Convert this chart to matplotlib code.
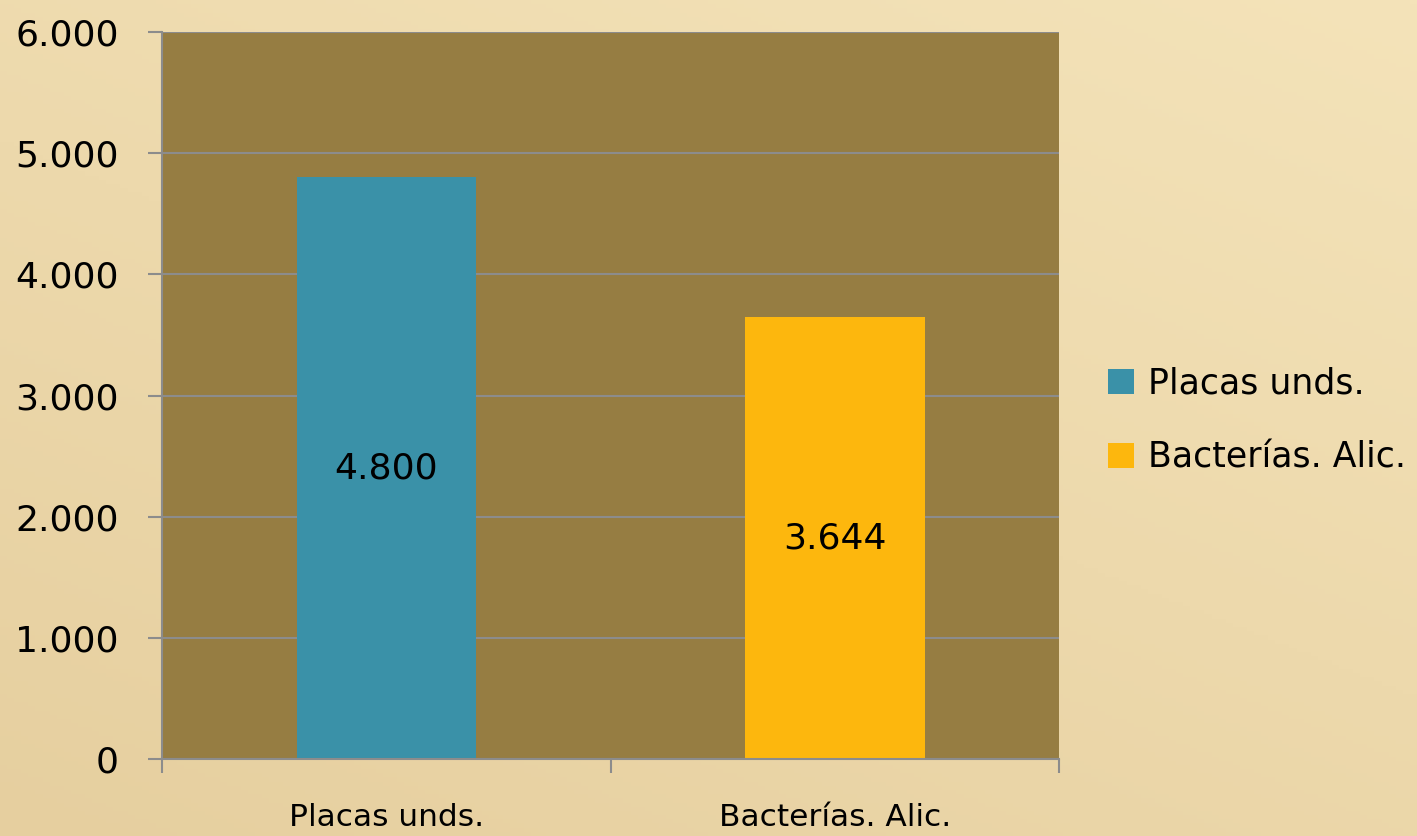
import numpy as np
import matplotlib.pyplot as plt
from matplotlib.patches import Patch

# data
categories = ["Placas unds.", "Bacterías. Alic."]
values = [4800, 3644]
value_labels = ["4.800", "3.644"]
colors = ["#3A91A8", "#FDB70D"]
yticks = [0, 1000, 2000, 3000, 4000, 5000, 6000]
ytick_labels = ["0", "1.000", "2.000", "3.000", "4.000", "5.000", "6.000"]

plt.rcParams['font.family'] = ['DejaVu Sans']

fig = plt.figure(figsize=(14.17, 8.36), dpi=100)

# beige gradient background
bg = fig.add_axes([0, 0, 1, 1], zorder=-10)
yy, xx = np.mgrid[0:1:200j, 0:1:200j]
t = 0.6 * yy + 0.4 * (1 - xx)
c_top = np.array([0xF4, 0xE3, 0xB9]) / 255
c_bot = np.array([0xE6, 0xCF, 0x9F]) / 255
img = c_top[None, None, :] * (1 - t[..., None]) + c_bot[None, None, :] * t[..., None]
bg.imshow(img, aspect='auto', extent=[0, 1, 0, 1], origin='upper')
bg.axis('off')

ax = fig.add_axes([0.1143, 0.0921, 0.6331, 0.8696])
ax.set_facecolor("#967D42")

x = np.arange(len(categories))
bars = ax.bar(x, values, width=0.4, color=colors, zorder=3)

for xi, v, lab in zip(x, values, value_labels):
    ax.text(xi, v / 2, lab, ha='center', va='center', fontsize=26, color='black', zorder=4)

ax.set_xlim(-0.5, 1.5)
ax.set_ylim(0, 6000)
ax.set_yticks(yticks)
ax.set_yticklabels(ytick_labels, fontsize=26)
ax.set_xticks(x)
ax.set_xticklabels(categories, fontsize=22.5)
ax.set_xticks([-0.5, 0.5, 1.5], minor=True)
ax.tick_params(axis='x', which='major', length=0, pad=32)
ax.tick_params(axis='x', which='minor', length=10, width=1.5, color='#8C8C8C')
ax.tick_params(axis='y', length=10, width=1.5, color='#8C8C8C', pad=21)

ax.grid(axis='y', color='#8C8C8C', linewidth=1.5, zorder=1)
ax.set_axisbelow(True)
for s in ['top', 'right']:
    ax.spines[s].set_visible(False)
for s in ['left', 'bottom']:
    ax.spines[s].set_color('#8C8C8C')
    ax.spines[s].set_linewidth(1.5)
    ax.spines[s].set_zorder(5)

handles = [Patch(facecolor=c, edgecolor='none') for c in colors]
fig.legend(handles, categories, loc='center left', bbox_to_anchor=(0.782, 0.497),
           frameon=False, fontsize=25, handlelength=0.75, handleheight=0.75,
           handletextpad=0.4, labelspacing=1.15, borderpad=0, borderaxespad=0)

fig.savefig("out.png", dpi=100)
